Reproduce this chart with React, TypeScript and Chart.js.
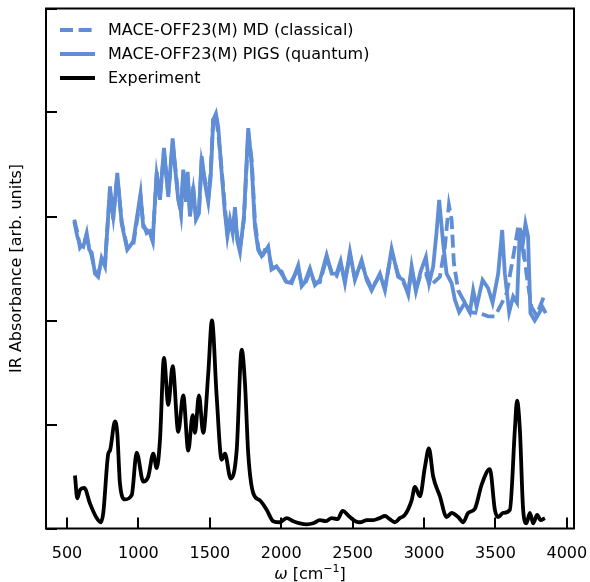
import { useEffect, useRef } from "react";
import { Chart, registerables } from "chart.js";

Chart.register(...registerables);

const xTicks = [500, 1000, 1500, 2000, 2500, 3000, 3500, 4000];
const yTicks = [0, 1, 2, 3, 4, 5];

const seriesLabels = [
  "MACE-OFF23(M) MD (classical)",
  "MACE-OFF23(M) PIGS (quantum)",
  "Experiment",
];

const pigsX = [551, 572, 591, 614, 638, 656, 673, 696, 718, 742, 766, 801, 824, 852, 883, 922, 964, 1015, 1034, 1058, 1081, 1100, 1128, 1151, 1179, 1209, 1240, 1263, 1279, 1298, 1314, 1333, 1345, 1361, 1384, 1403, 1424, 1443, 1466, 1489, 1506, 1524, 1543, 1559, 1583, 1606, 1623, 1641, 1660, 1676, 1692, 1711, 1739, 1769, 1793, 1816, 1839, 1863, 1886, 1909, 1932, 1967, 2003, 2038, 2073, 2119, 2143, 2166, 2201, 2236, 2271, 2318, 2353, 2388, 2416, 2446, 2481, 2516, 2563, 2598, 2633, 2691, 2726, 2773, 2819, 2854, 2889, 2913, 2943, 2976, 3013, 3036, 3064, 3087, 3106, 3134, 3158, 3193, 3216, 3246, 3286, 3321, 3344, 3368, 3410, 3449, 3480, 3519, 3547, 3566, 3596, 3624, 3651, 3671, 3689, 3710, 3728, 3745, 3775, 3805, 3829, 3852];
const pigsY = [2.95, 2.81, 2.73, 2.71, 2.84, 2.68, 2.65, 2.45, 2.42, 2.60, 2.52, 3.29, 2.97, 3.42, 2.93, 2.68, 2.76, 3.22, 2.90, 2.87, 2.84, 2.76, 3.43, 3.16, 3.66, 3.19, 3.75, 3.38, 3.16, 3.05, 3.45, 3.14, 3.43, 3.00, 3.29, 2.97, 3.03, 3.58, 3.32, 3.14, 3.38, 3.93, 3.99, 3.86, 3.42, 3.03, 2.81, 2.97, 2.84, 3.09, 2.77, 2.66, 3.00, 3.85, 3.50, 2.90, 2.68, 2.62, 2.66, 2.71, 2.49, 2.52, 2.45, 2.37, 2.36, 2.53, 2.33, 2.37, 2.50, 2.34, 2.39, 2.63, 2.45, 2.45, 2.57, 2.36, 2.66, 2.39, 2.58, 2.39, 2.29, 2.45, 2.29, 2.69, 2.42, 2.39, 2.25, 2.52, 2.28, 2.47, 2.61, 2.36, 2.52, 2.84, 3.16, 2.74, 2.45, 2.36, 2.20, 2.08, 2.17, 2.08, 2.29, 2.13, 2.39, 2.31, 2.17, 2.45, 2.87, 2.45, 2.08, 2.23, 2.17, 2.89, 2.71, 2.93, 2.81, 2.07, 2.00, 2.07, 2.13, 2.07];

const mdX = [551, 572, 591, 614, 638, 656, 673, 696, 718, 742, 766, 801, 824, 852, 883, 922, 964, 1015, 1034, 1058, 1081, 1100, 1128, 1151, 1179, 1209, 1240, 1263, 1279, 1298, 1314, 1333, 1345, 1361, 1384, 1403, 1424, 1443, 1466, 1489, 1506, 1524, 1543, 1559, 1583, 1606, 1623, 1641, 1660, 1676, 1692, 1711, 1739, 1769, 1793, 1816, 1839, 1863, 1886, 1909, 1932, 1967, 2003, 2038, 2073, 2119, 2143, 2166, 2201, 2236, 2271, 2318, 2353, 2388, 2416, 2446, 2481, 2516, 2563, 2598, 2633, 2691, 2726, 2773, 2819, 2854, 2889, 2913, 2943, 2976, 3013, 3041, 3080, 3111, 3146, 3174, 3193, 3209, 3239, 3274, 3321, 3391, 3449, 3496, 3531, 3578, 3624, 3659, 3682, 3717, 3752, 3787, 3822, 3846];
const mdY = [2.97, 2.85, 2.70, 2.74, 2.80, 2.70, 2.62, 2.47, 2.44, 2.57, 2.55, 3.25, 3.00, 3.38, 2.95, 2.70, 2.73, 3.18, 2.93, 2.84, 2.86, 2.78, 3.40, 3.19, 3.62, 3.22, 3.70, 3.41, 3.19, 3.02, 3.41, 3.17, 3.40, 3.03, 3.25, 3.00, 3.06, 3.52, 3.35, 3.18, 3.42, 3.96, 3.95, 3.80, 3.45, 3.08, 2.85, 2.93, 2.87, 3.05, 2.80, 2.70, 2.97, 3.80, 3.55, 2.95, 2.70, 2.60, 2.68, 2.68, 2.52, 2.50, 2.47, 2.35, 2.38, 2.50, 2.35, 2.35, 2.47, 2.36, 2.37, 2.60, 2.47, 2.43, 2.55, 2.38, 2.63, 2.41, 2.55, 2.41, 2.31, 2.43, 2.31, 2.66, 2.44, 2.37, 2.27, 2.49, 2.30, 2.44, 2.45, 2.33, 2.38, 2.42, 2.71, 3.11, 2.97, 2.55, 2.29, 2.20, 2.08, 2.07, 2.04, 2.04, 2.13, 2.26, 2.61, 2.90, 2.87, 2.45, 2.13, 2.05, 2.17, 2.26];

const expX = [556, 572, 591, 621, 661, 708, 736, 754, 789, 801, 836, 852, 871, 906, 953, 988, 1034, 1069, 1104, 1128, 1151, 1179, 1209, 1240, 1279, 1314, 1349, 1380, 1396, 1424, 1454, 1489, 1515, 1548, 1583, 1606, 1646, 1688, 1723, 1746, 1769, 1804, 1851, 1898, 1944, 1990, 2038, 2085, 2131, 2178, 2224, 2271, 2310, 2353, 2395, 2430, 2481, 2520, 2551, 2600, 2644, 2690, 2726, 2760, 2796, 2830, 2866, 2913, 2936, 2971, 3006, 3034, 3064, 3111, 3158, 3193, 3239, 3274, 3309, 3356, 3403, 3461, 3496, 3519, 3554, 3601, 3636, 3651, 3671, 3694, 3717, 3741, 3764, 3792, 3816, 3846];
const expY = [0.51, 0.29, 0.37, 0.39, 0.24, 0.10, 0.06, 0.15, 0.72, 0.75, 1.03, 0.92, 0.43, 0.28, 0.32, 0.73, 0.45, 0.50, 0.72, 0.58, 0.85, 1.64, 1.19, 1.56, 0.93, 1.28, 0.75, 1.09, 0.92, 1.28, 0.92, 1.49, 2.00, 1.27, 0.66, 0.72, 0.48, 0.75, 1.72, 1.40, 0.72, 0.34, 0.27, 0.18, 0.07, 0.06, 0.10, 0.07, 0.05, 0.04, 0.05, 0.08, 0.07, 0.10, 0.09, 0.17, 0.11, 0.07, 0.06, 0.08, 0.08, 0.10, 0.12, 0.09, 0.06, 0.10, 0.13, 0.27, 0.40, 0.31, 0.59, 0.77, 0.50, 0.31, 0.11, 0.15, 0.11, 0.06, 0.15, 0.19, 0.42, 0.57, 0.18, 0.11, 0.15, 0.18, 0.95, 1.23, 0.95, 0.18, 0.05, 0.15, 0.05, 0.13, 0.08, 0.10];

const BLUE = "#5f8dd6";
const FONT = "'DejaVu Sans', sans-serif";

const toPoints = (xs: number[], ys: number[]) => xs.map((x, i) => ({ x, y: ys[i] }));

const decorPlugin = {
  id: "decor",
  afterDatasetsDraw(chart: any) {
    const { ctx, chartArea, scales } = chart;
    const { left, right, top, bottom } = chartArea;
    const xs = scales.x;
    const ys = scales.y;
    ctx.save();
    ctx.strokeStyle = "#000";
    ctx.lineWidth = 2;
    ctx.lineCap = "butt";
    xs.ticks.forEach((t: any) => {
      const px = Math.round(xs.getPixelForValue(t.value));
      ctx.beginPath();
      ctx.moveTo(px, bottom);
      ctx.lineTo(px, bottom - 11);
      ctx.stroke();
    });
    ys.ticks.forEach((t: any) => {
      const py = Math.round(ys.getPixelForValue(t.value));
      ctx.beginPath();
      ctx.moveTo(left, py);
      ctx.lineTo(left + 11, py);
      ctx.stroke();
    });
    ctx.lineWidth = 2;
    ctx.strokeRect(left, top, right - left, bottom - top);

    const ds = chart.data.datasets;
    const rows = [30, 54, 78];
    ctx.font = `16px ${FONT}`;
    ctx.textBaseline = "middle";
    ctx.fillStyle = "#000";
    ds.forEach((d: any, i: number) => {
      ctx.save();
      ctx.strokeStyle = d.borderColor;
      ctx.lineWidth = d.borderWidth;
      ctx.setLineDash(d.borderDash || []);
      ctx.beginPath();
      ctx.moveTo(60, rows[i]);
      ctx.lineTo(95, rows[i]);
      ctx.stroke();
      ctx.restore();
      ctx.fillText(d.label, 108, rows[i] + 1);
    });

    ctx.save();
    ctx.translate(17, (top + bottom) / 2);
    ctx.rotate(-Math.PI / 2);
    ctx.textAlign = "center";
    ctx.textBaseline = "middle";
    ctx.font = `16px ${FONT}`;
    ctx.fillText("IR Absorbance [arb. units]", 0, 0);
    ctx.restore();

    const base = 579;
    const p1 = "ω";
    const p2 = " [cm";
    const p3 = "−1";
    const p4 = "]";
    ctx.textBaseline = "alphabetic";
    ctx.textAlign = "left";
    ctx.font = `italic 16px ${FONT}`;
    const w1 = ctx.measureText(p1).width;
    ctx.font = `16px ${FONT}`;
    const w2 = ctx.measureText(p2).width;
    const w4 = ctx.measureText(p4).width;
    ctx.font = `11px ${FONT}`;
    const w3 = ctx.measureText(p3).width;
    let cx = (left + right) / 2 - (w1 + w2 + w3 + w4) / 2;
    ctx.font = `italic 16px ${FONT}`;
    ctx.fillText(p1, cx, base);
    cx += w1;
    ctx.font = `16px ${FONT}`;
    ctx.fillText(p2, cx, base);
    cx += w2;
    ctx.font = `11px ${FONT}`;
    ctx.fillText(p3, cx, base - 7);
    cx += w3;
    ctx.font = `16px ${FONT}`;
    ctx.fillText(p4, cx, base);
    ctx.restore();
  },
};

export default function App() {
  const ref = useRef<HTMLCanvasElement | null>(null);
  useEffect(() => {
    if (!ref.current) return;
    Chart.defaults.font.family = FONT;
    const chart = new Chart(ref.current, {
      type: "line",
      data: {
        datasets: [
          {
            label: seriesLabels[0],
            data: toPoints(mdX, mdY),
            borderColor: BLUE,
            borderWidth: 3.8,
            borderDash: [13, 5.6],
            pointRadius: 0,
            tension: 0,
            fill: false,
          },
          {
            label: seriesLabels[1],
            data: toPoints(pigsX, pigsY),
            borderColor: BLUE,
            borderWidth: 3.8,
            pointRadius: 0,
            tension: 0,
            fill: false,
          },
          {
            label: seriesLabels[2],
            data: toPoints(expX, expY),
            borderColor: "#000000",
            borderWidth: 3.8,
            pointRadius: 0,
            cubicInterpolationMode: "monotone",
            fill: false,
          },
        ],
      },
      options: {
        animation: false,
        responsive: false,
        devicePixelRatio: 1,
        layout: { padding: { top: 8.5, right: 16, left: 0, bottom: 0 } },
        plugins: {
          legend: { display: false },
          tooltip: { enabled: false },
          title: { display: false },
        },
        scales: {
          x: {
            type: "linear",
            min: 353,
            max: 4050,
            grid: { display: false },
            border: { display: false },
            afterBuildTicks: (axis: any) => {
              axis.ticks = xTicks.map((v) => ({ value: v }));
            },
            afterFit: (axis: any) => {
              axis.height = 53.5;
              axis.paddingLeft = 0;
              axis.paddingRight = 0;
            },
            ticks: {
              autoSkip: false,
              maxRotation: 0,
              padding: 8,
              color: "#000",
              font: { size: 16, family: FONT },
              callback: (v: any) => String(v),
            },
          },
          y: {
            type: "linear",
            min: 0,
            max: 5,
            grid: { display: false },
            border: { display: false },
            afterBuildTicks: (axis: any) => {
              axis.ticks = yTicks.map((v) => ({ value: v }));
            },
            afterFit: (axis: any) => {
              axis.width = 46;
              axis.paddingTop = 0;
              axis.paddingBottom = 0;
            },
            ticks: { display: false },
          },
        },
      },
      plugins: [decorPlugin],
    });
    return () => chart.destroy();
  }, []);
  return (
    <div style={{ position: "fixed", left: 0, top: 0, width: 590, height: 582, background: "#fff" }}>
      <canvas ref={ref} width={590} height={582} />
    </div>
  );
}
